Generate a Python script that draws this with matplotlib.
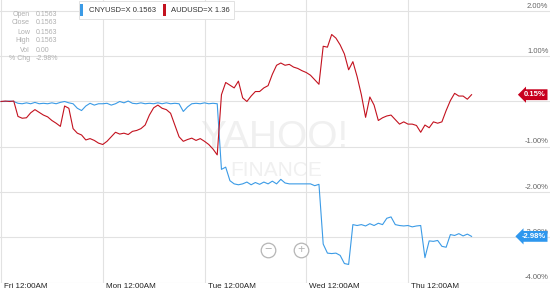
import matplotlib
matplotlib.use('Agg')
import matplotlib.pyplot as plt
from matplotlib.patches import Rectangle
import numpy as np

plt.rcParams['font.family'] = ['Liberation Sans', 'DejaVu Sans']

# hourly quotes, % change since Fri 12:00AM (weekend removed)
day_labels = ['Fri 12:00AM', 'Mon 12:00AM', 'Tue 12:00AM', 'Wed 12:00AM', 'Thu 12:00AM']
day_hours = [0, 24, 48, 72, 96]
pct_ticks = [2, 1, 0, -1, -2, -3, -4]

aud_pct = [0.00, 0.01, 0.00, 0.01, -0.33, -0.37, -0.36, -0.25, -0.18, -0.24,
           -0.30, -0.34, -0.42, -0.48, -0.55, -0.10, -0.15, -0.60, -0.70, -0.74,
           -0.85, -0.82, -0.86, -0.92, -0.95, -0.88, -0.78, -0.68, -0.72, -0.70,
           -0.73, -0.66, -0.64, -0.60, -0.52, -0.30, -0.14, -0.08, -0.15, -0.18,
           -0.26, -0.52, -0.78, -0.88, -0.84, -0.81, -0.86, -0.82, -0.88, -0.95,
           -1.05, -1.18, 0.15, 0.42, 0.36, 0.30, 0.45, 0.08, 0.00, 0.12,
           0.22, 0.22, 0.30, 0.35, 0.60, 0.80, 0.85, 0.80, 0.82, 0.76,
           0.73, 0.68, 0.64, 0.58, 0.48, 0.38, 1.22, 1.20, 1.48, 1.40,
           1.25, 1.05, 0.70, 0.88, 0.55, 0.15, -0.35, 0.10, -0.08, -0.42,
           -0.36, -0.32, -0.30, -0.40, -0.50, -0.45, -0.50, -0.50, -0.53, -0.68,
           -0.52, -0.58, -0.45, -0.48, -0.45, -0.20, 0.02, 0.18, 0.12, 0.12,
           0.05, 0.15]

cny_pct = [0.00, 0.00, 0.01, 0.00, -0.04, -0.05, -0.03, -0.05, -0.02, -0.05,
           -0.04, -0.05, -0.03, -0.05, -0.02, 0.00, -0.03, -0.05, -0.15, -0.20,
           -0.10, -0.04, -0.08, -0.05, -0.05, -0.04, -0.08, -0.05, 0.00, -0.03,
           0.01, -0.04, -0.05, -0.03, -0.05, -0.04, -0.05, -0.03, -0.05, -0.03,
           -0.05, -0.04, -0.05, -0.22, -0.12, -0.05, -0.04, -0.05, -0.03, -0.05,
           -0.04, -0.05, -1.50, -1.45, -1.75, -1.82, -1.84, -1.82, -1.78, -1.84,
           -1.79, -1.83, -1.78, -1.82, -1.76, -1.82, -1.72, -1.80, -1.82, -1.82,
           -1.82, -1.82, -1.82, -1.82, -1.86, -1.83, -3.15, -3.35, -3.36, -3.35,
           -3.40, -3.58, -3.60, -2.72, -2.74, -2.72, -2.75, -2.70, -2.74, -2.69,
           -2.72, -2.58, -2.55, -2.72, -2.74, -2.75, -2.74, -2.77, -2.75, -2.74,
           -3.45, -3.08, -3.09, -3.07, -3.20, -3.22, -2.94, -2.96, -2.92, -2.97,
           -2.93, -2.98]

info_names = ['Open', 'Close', 'Low', 'High', 'Vol', '% Chg']
info_values = ['0.1563', '0.1563', '0.1563', '0.1563', '0.00', '-2.98%']

hours = np.arange(len(aud_pct))
blue = '#3b9be6'
red = '#c3121f'

fig = plt.figure(figsize=(5.5, 2.9), dpi=100)
ax = fig.add_axes([0, 7 / 290, 1, 283 / 290])
ax.set_xlim(-0.24, 129.5)
ax.set_ylim(-4.01, 2.242)
for s in ax.spines.values():
    s.set_visible(False)
ax.set_xticks(day_hours)
ax.set_yticks(pct_ticks)
ax.tick_params(length=0, labelbottom=False, labelleft=False)
ax.grid(True, color='#e2e2e2', lw=0.8)
ax.set_axisbelow(True)

# watermark
ax.text(274 / 550, 1 - 138 / 290, 'YAHOO!', transform=fig.transFigure, ha='center', va='center',
        fontsize=28, color='#f0f0f0', zorder=0.5)
ax.text(276 / 550, 1 - 170 / 290, 'FINANCE', transform=fig.transFigure, ha='center', va='center',
        fontsize=15, color='#f0f0f0', zorder=0.5)

ax.plot(hours, cny_pct, color=blue, lw=0.8, zorder=3)
ax.plot(hours, aud_pct, color=red, lw=0.8, zorder=4)

for v in pct_ticks:
    if v == 0:
        continue  # hidden behind the AUD flag
    ax.text(0.997, v + 0.03, '%.2f%%' % v, transform=ax.get_yaxis_transform(),
            ha='right', va='bottom', fontsize=5.5, color='#666666', zorder=5)

for h, lab in zip(day_hours, day_labels):
    x = ax.transData.transform((h, 0))[0] / fig.bbox.width
    fig.text(x + 3 / 550, 0.5 / 290, lab, ha='left', va='bottom', fontsize=5.8, color='#222222')

# end-value flags
for vals, col in [(aud_pct, '#c8001e'), (cny_pct, '#2e97ee')]:
    ax.text(0.992, vals[-1], '%.2f%%' % vals[-1], transform=ax.get_yaxis_transform(),
            ha='right', va='center', fontsize=5.5, color='white', weight='bold', zorder=6,
            bbox=dict(boxstyle='larrow,pad=0.25', fc=col, ec='none'))

# legend box
fig.patches.append(Rectangle((79 / 550, 1 - 19 / 290), 155 / 550, 18 / 290, transform=fig.transFigure,
                             fc='white', ec='#dddddd', lw=0.6, zorder=5))
fig.patches.append(Rectangle((80 / 550, 1 - 16 / 290), 3 / 550, 12 / 290, transform=fig.transFigure,
                             fc=blue, ec='none', zorder=6))
fig.patches.append(Rectangle((163 / 550, 1 - 16 / 290), 3 / 550, 12 / 290, transform=fig.transFigure,
                             fc=red, ec='none', zorder=6))
fig.text(89 / 550, 1 - 10 / 290, 'CNYUSD=X 0.1563', fontsize=5.5, color='#333333', va='center', zorder=7)
fig.text(171 / 550, 1 - 10 / 290, 'AUDUSD=X 1.36', fontsize=5.5, color='#333333', va='center', zorder=7)

# info panel
for i, (n, v) in enumerate(zip(info_names, info_values)):
    y = 1 - (14 + 9 * i) / 290
    fig.text(30 / 550, y, n, fontsize=5, color='#b0b0b0', ha='right', va='center')
    fig.text(36 / 550, y, v, fontsize=5, color='#b0b0b0', ha='left', va='center')

# zoom buttons
for x, sym in [(268, '\u2212'), (301, '+')]:
    ax.plot([x / 550], [1 - 250 / 290], 'o', ms=10.5, mfc='white', mec='#b5b5b5', mew=0.9,
            transform=fig.transFigure, zorder=7, clip_on=False)
    ax.text(x / 550, 1 - 250 / 290, sym, transform=fig.transFigure, ha='center', va='center',
            fontsize=9, color='#b5b5b5', zorder=8)

fig.savefig('out.png', dpi=100)
